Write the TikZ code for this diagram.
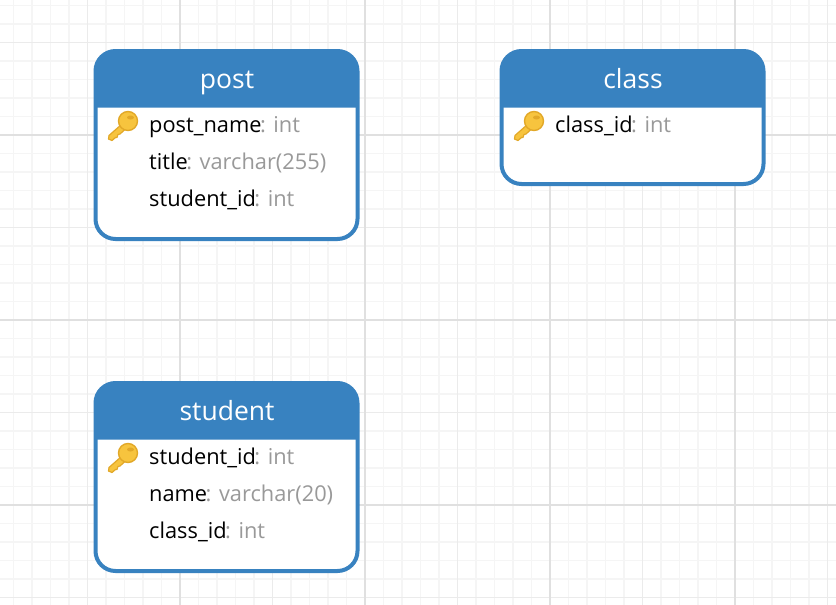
\documentclass[tikz,border=0pt]{standalone}
\usepackage{fontspec}
\setmainfont{Open Sans}
\definecolor{erBlue}{RGB}{56, 130, 192}
\definecolor{erGrey}{RGB}{153, 153, 153}
\definecolor{keyGold}{RGB}{247, 196, 62}
\definecolor{keyEdge}{RGB}{226, 168, 40}
\tikzset{
  keyicon/.pic = {
    \draw [keyEdge, fill=keyGold, line width=1.2pt, line join=round]
      (-6,3) -- (-19,14.5) -- (-19.5,18) -- (-16,19.5) -- (-12.5,16.5) -- (-11,16.5)
      -- (-10,13.5) -- (-8,13) -- (4,2) -- cycle;
    \draw [keyEdge, fill=keyGold, line width=1.4pt] (0,0) circle (9.5pt);
    \fill [keyEdge] (2.5,-3.5) ellipse (3.5pt and 2pt);
  }
}

\begin{document}
\begin{tikzpicture} [
    x=1pt, y=-1pt,
    entity/.style = { rectangle, draw=erBlue, fill=white, line width=4pt,
                      rounded corners=20pt, outer sep=0pt, inner sep=0pt,
                      minimum width=262pt},
    header/.style = { fill=erBlue, rounded corners=20pt},
    title/.style  = { anchor=base, text=white, font=\fontsize{26.5}{30}\selectfont, inner sep=0pt},
    field/.style  = { anchor=base west, inner sep=0pt, font=\fontsize{21.8}{26}\selectfont},
    minorline/.style = { draw=black!4, line width=1.2pt},
    midline/.style   = { draw=black!8, line width=1.5pt},
    majorline/.style = { draw=black!12, line width=1.5pt},
  ]

\useasboundingbox [fill=white] (0,0) rectangle (836,605);

%Raster
  \foreach \i in {0,...,45} {
    \draw [minorline] ({-5+18.5*\i},0) -- ({-5+18.5*\i},605);
    \draw [minorline] (0,{5.5+18.5*\i}) -- (836,{5.5+18.5*\i});
  }
  \foreach \i in {0,...,8} {
    \draw [midline] ({87.5+92.5*\i},0) -- ({87.5+92.5*\i},605);
    \draw [midline] (0,{42.5+92.5*\i}) -- (836,{42.5+92.5*\i});
  }
  \foreach \i in {0,...,3} {
    \draw [majorline] ({180+185*\i},0) -- ({180+185*\i},605);
    \draw [majorline] (0,{135+185*\i}) -- (836,{135+185*\i});
  }

%Tabellen
  \node [entity, minimum height=188pt] (post) at (226.5,145) {};
  \node [entity, minimum height=133pt] (class) at (632.5,117.5) {};
  \node [entity, minimum height=188pt] (student) at (226.5,477) {};

%Kopfzeilen
  \foreach \t in {post,class,student} {
    \path [header] ([yshift=-56.5pt]\t.north west) [sharp corners] -- ++(0,0)
      [rounded corners=20pt] -- (\t.north west) -- (\t.north east) [sharp corners] -- ([yshift=-56.5pt]\t.north east) -- cycle;
  }
  \node [title] (postTitle) at (227,88) {post};
  \node [title] (classTitle) at (633,88) {class};
  \node [title] (studentTitle) at (227,420) {student};

%Felder post
  \pic at (128,121) {keyicon};
  \node [field] (postName) at (149,132) {post\_name\kern-1.5pt\textcolor{erGrey}{: int}};
  \node [field] (postTitleField) at (149,169) {title\kern-1.5pt\textcolor{erGrey}{: varchar(255)}};
  \node [field] (postStudent) at (149,206) {student\_id\kern-1.5pt\textcolor{erGrey}{: int}};

%Felder class
  \pic at (534,121) {keyicon};
  \node [field] (classId) at (555,132) {class\_id\kern-1.5pt\textcolor{erGrey}{: int}};

%Felder student
  \pic at (128,453) {keyicon};
  \node [field] (studentId) at (149,464) {student\_id\kern-1.5pt\textcolor{erGrey}{: int}};
  \node [field] (studentName) at (149,501) {name\kern-1.5pt\textcolor{erGrey}{: varchar(20)}};
  \node [field] (studentClass) at (149,538) {class\_id\kern-1.5pt\textcolor{erGrey}{: int}};
\end{tikzpicture}
\end{document}
